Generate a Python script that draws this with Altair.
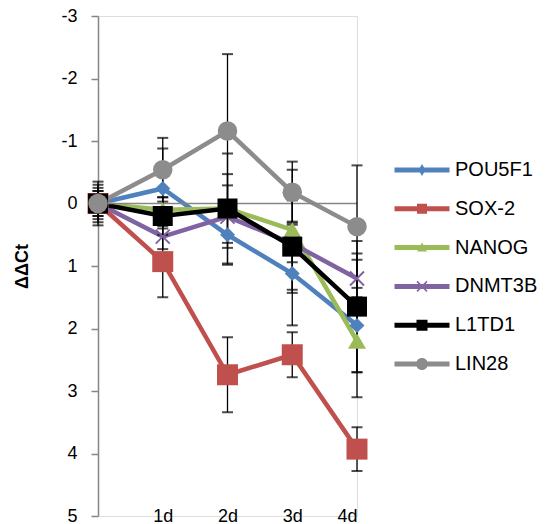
import json
import altair as alt
import pandas as pd

days = ["", "1d", "2d", "3d", "4d"]
series = ["POU5F1", "SOX-2", "NANOG", "DNMT3B", "L1TD1", "LIN28"]

pou5f1 = [0, -0.24, 0.50, 1.12, 1.95]
sox2 = [0, 0.93, 2.74, 2.42, 3.93]
nanog = [0, 0.10, 0.08, 0.42, 2.20]
dnmt3b = [0, 0.53, 0.21, 0.64, 1.20]
l1td1 = [0, 0.20, 0.08, 0.69, 1.65]
lin28 = [0, -0.54, -1.16, -0.18, 0.37]

pou5f1_err = [0.20, 0.64, 0.48, 0.83, 1.15]
sox2_err = [0.30, 0.57, 0.60, 0.36, 0.35]
nanog_err = [0.15, 0.20, 0.88, 0.96, 0.50]
dnmt3b_err = [0.20, 0.20, 0.50, 0.30, 0.30]
l1td1_err = [0.35, 0.30, 0.55, 0.74, 1.05]
lin28_err = [0.25, 0.51, 1.23, 0.49, 0.98]

values = [pou5f1, sox2, nanog, dnmt3b, l1td1, lin28]
errors = [pou5f1_err, sox2_err, nanog_err, dnmt3b_err, l1td1_err, lin28_err]

colors = ["#4F81BD", "#C0504D", "#9BBB59", "#8064A2", "#000000", "#8C8C8C"]

X_PATH = "M-1,-1L1,1M-1,1L1,-1"
marker_style = {
    "POU5F1": dict(shape="diamond", size=225, filled=True),
    "SOX-2": dict(shape="square", size=441, filled=True),
    "NANOG": dict(shape="triangle-up", size=324, filled=True),
    "DNMT3B": dict(shape=X_PATH, size=196, filled=False, strokeWidth=2),
    "L1TD1": dict(shape="square", size=400, filled=True),
    "LIN28": dict(shape="circle", size=380, filled=True),
}

# legend symbols: line segment + marker (unit = 10px)
LINE = "M-2.75,-0.25H2.75V0.25H-2.75Z"
legend_paths = [
    LINE + " M0,-0.6L0.35,0L0,0.6L-0.35,0Z",
    LINE + " M-0.5,-0.5H0.5V0.5H-0.5Z",
    LINE + " M0,-0.5L0.5,0.4L-0.5,0.4Z",
    LINE + " M-0.447,-0.553L0.553,0.447L0.447,0.553L-0.553,-0.447Z"
    " M0.553,-0.447L-0.447,0.553L-0.553,0.447L0.447,-0.553Z",
    LINE + " M-0.55,-0.55H0.55V0.55H-0.55Z",
    LINE + " M0.6,0A0.6,0.6,0,1,1,-0.6,0A0.6,0.6,0,1,1,0.6,0Z",
]

rows = []
for s, vals, errs in zip(series, values, errors):
    for i, (d, v, e) in enumerate(zip(days, vals, errs)):
        rows.append(dict(series=s, day=d, idx=i, v=v, lo=v - e, hi=v + e))
df = pd.DataFrame(rows)

axis_grey = "#868686"
FONT = "Liberation Sans"

x_enc = alt.X(
    "idx:Q",
    scale=alt.Scale(domain=[0, len(days) - 1], nice=False, zero=False),
    axis=alt.Axis(
        title=None, domain=False, ticks=False, tickSize=0, labelPadding=0,
        values=list(range(1, len(days))),
        labelExpr=json.dumps(days) + "[datum.value]",
        labelBaseline="middle", labelFontSize=18, labelFont=FONT,
        labelColor="black", labelAngle=0, grid=False,
    ),
)
y_enc = alt.Y(
    "v:Q",
    scale=alt.Scale(domain=[-3, 5], reverse=True, nice=False, zero=False),
    axis=alt.Axis(
        title="ΔΔCt", values=list(range(-3, 6)), labelExpr="'' + datum.value",
        grid=False, domain=True, domainColor=axis_grey, domainWidth=1.5,
        ticks=True, tickColor=axis_grey, tickWidth=1.5, tickSize=7,
        labelPadding=14, labelFontSize=18, labelFont=FONT, labelColor="black",
        titleFont=FONT, titleFontSize=18, titleFontWeight="bold",
        titleColor="black", titleAngle=-90, titleX=-76, titleY=250,
        titleAlign="center", titleBaseline="middle",
    ),
)

color_scale = alt.Scale(domain=series, range=colors)

lines = alt.Chart(df).mark_line(strokeWidth=4.5).encode(
    x=x_enc, y=y_enc,
    color=alt.Color("series:N", scale=color_scale, legend=None),
    order=alt.Order("idx:Q"),
)

zero = alt.Chart(pd.DataFrame({"a": [0], "b": [len(days) - 1], "z": [0]})).mark_rule(
    color=axis_grey, strokeWidth=1.5
).encode(x=alt.X("a:Q"), x2="b:Q", y=alt.Y("z:Q"))

err = alt.Chart(df).mark_rule(color="black", strokeWidth=1.3).encode(
    x=alt.X("idx:Q"), y=alt.Y("lo:Q"), y2="hi:Q"
)
cap_lo = alt.Chart(df).mark_tick(
    orient="horizontal", color="black", size=11, thickness=2
).encode(x=alt.X("idx:Q"), y=alt.Y("lo:Q"))
cap_hi = alt.Chart(df).mark_tick(
    orient="horizontal", color="black", size=11, thickness=2
).encode(x=alt.X("idx:Q"), y=alt.Y("hi:Q"))

markers = []
for s in series:
    st = marker_style[s]
    markers.append(
        alt.Chart(df[df.series == s]).mark_point(opacity=1, **st).encode(
            x=alt.X("idx:Q"), y=alt.Y("v:Q"),
            color=alt.Color("series:N", scale=color_scale, legend=None),
        )
    )

leg = alt.Legend(
    orient="none", legendX=314, legendY=144, title=None, symbolSize=400,
    labelFontSize=20, labelFont=FONT, labelColor="black", labelOffset=23,
    rowPadding=18.8, padding=0, symbolStrokeWidth=0, symbolOpacity=1,
)
legend_layer = alt.Chart(df).mark_point(
    filled=True, opacity=0
).encode(
    x=alt.X("idx:Q"), y=alt.Y("v:Q"),
    color=alt.Color("series:N", scale=color_scale, legend=leg),
    shape=alt.Shape("series:N", scale=alt.Scale(domain=series, range=legend_paths), legend=leg),
)

chart = alt.layer(
    lines, zero, err, cap_lo, cap_hi, *markers, legend_layer
).resolve_legend(
    color="independent", shape="independent"
).properties(
    width=259, height=500,
    autosize=alt.AutoSizeParams(type="none"),
    padding={"left": 90, "top": 8, "right": 183, "bottom": 8},
).configure_view(
    stroke="transparent", strokeWidth=0
).configure_axis(
    domainColor="transparent", tickColor="transparent",
    gridColor="transparent", gridOpacity=0
).configure_axisX(
    grid=False
).configure_axisRight(
    domain=False, ticks=False, labels=False, grid=False
).configure(background="white")

chart.save("out.html", embed_options={"renderer": "svg", "actions": False})
